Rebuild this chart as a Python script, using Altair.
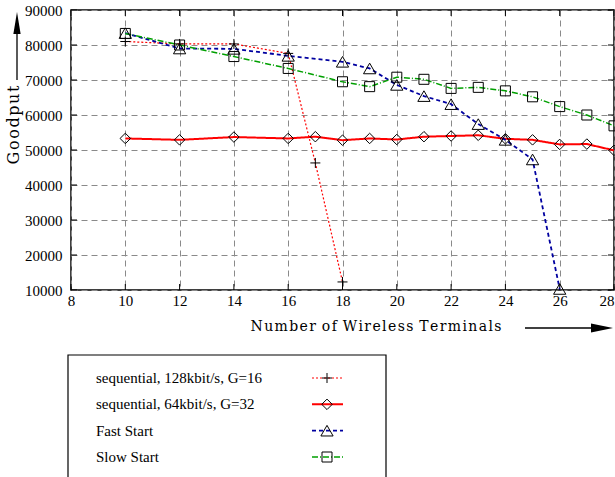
import altair as alt
import pandas as pd

# ---------------- data ----------------
series_names = [
    "sequential, 128kbit/s, G=16",
    "sequential, 64kbit/s, G=32",
    "Fast Start",
    "Slow Start",
]
x_seq128 = [10, 12, 14, 16, 17, 18]
y_seq128 = [81000, 80300, 80300, 77600, 46300, 12300]

x_seq64 = [10, 12, 14, 16, 17, 18, 19, 20, 21, 22, 23, 24, 25, 26, 27, 28]
y_seq64 = [53300, 52900, 53700, 53300, 53800, 52800, 53300, 53000, 53800,
           54000, 54200, 53200, 52900, 51600, 51700, 49900]

x_fast = [10, 12, 14, 16, 18, 19, 20, 21, 22, 23, 24, 25, 26]
y_fast = [83400, 79000, 78900, 76900, 75200, 73300, 68600, 65400, 63100,
          57400, 52900, 47300, 10300]

x_slow = [10, 12, 14, 16, 18, 19, 20, 21, 22, 23, 24, 25, 26, 27, 28]
y_slow = [83300, 80000, 76700, 73300, 69500, 68100, 70800, 70200, 67600,
          67900, 66900, 65200, 62400, 60000, 56900]

x_ticks = [8, 10, 12, 14, 16, 18, 20, 22, 24, 26, 28]
y_ticks = [10000, 20000, 30000, 40000, 50000, 60000, 70000, 80000, 90000]

x_title = "Number of Wireless Terminals"
y_title = "Goodput"

# ---------------- styles ----------------
colors = ["#ff0000", "#ff0000", "#0000a0", "#00a000"]
dashes = [[2, 2], [1, 0], [4, 3], [6, 2, 1, 2]]
widths = [1.2, 2.0, 1.8, 1.5]
plus_path = "M-1,0L1,0M0,-1L0,1"
shapes = [plus_path, "diamond", "triangle-up", "square"]
sizes = [100, 110, 150, 100]

FONT = "Liberation Serif"
TFONT = "DejaVu Serif"
W, H = 543, 280

xs_all = [x_seq128, x_seq64, x_fast, x_slow]
ys_all = [y_seq128, y_seq64, y_fast, y_slow]

x_scale = alt.Scale(domain=[8, 28], nice=False, zero=False)
y_scale = alt.Scale(domain=[10000, 90000], nice=False, zero=False)
x_axis = alt.Axis(values=x_ticks, title=None, grid=True, gridDash=[6, 4],
                  gridColor="#8a8a8a", gridWidth=1, tickSize=0, domain=False,
                  labelFont=FONT, labelFontSize=15, labelColor="black",
                  labelPadding=3, labelFlush=False, format="d",
                  labelAlign=alt.expr("datum.value >= 28 ? 'right' : 'center'"))
y_axis = alt.Axis(values=y_ticks, title=None, grid=True, gridDash=[6, 4],
                  gridColor="#8a8a8a", gridWidth=1, tickSize=0, domain=False,
                  labelFont=FONT, labelFontSize=15, labelColor="black",
                  labelPadding=9, labelFlush=False, format="d")


def X(field):
    return alt.X(field, type="quantitative", scale=x_scale, axis=x_axis)


def Y(field):
    return alt.Y(field, type="quantitative", scale=y_scale, axis=y_axis)


xt = pd.DataFrame({"t": x_ticks})
yt = pd.DataFrame({"t": y_ticks})

main_layers = [
    alt.Chart(xt).mark_rule(color="black", strokeWidth=1).encode(
        x=X("t"), y=alt.value(H), y2=alt.value(H - 6)),
    alt.Chart(xt).mark_rule(color="black", strokeWidth=1).encode(
        x=X("t"), y=alt.value(0), y2=alt.value(6)),
    alt.Chart(yt).mark_rule(color="black", strokeWidth=1).encode(
        y=Y("t"), x=alt.value(0), x2=alt.value(6)),
    alt.Chart(yt).mark_rule(color="black", strokeWidth=1).encode(
        y=Y("t"), x=alt.value(W), x2=alt.value(W - 6)),
]

point_layers = []
for name, xs, ys, c, d, w, s, sz in zip(series_names, xs_all, ys_all, colors,
                                       dashes, widths, shapes, sizes):
    df = pd.DataFrame({"x": xs, "y": ys})
    main_layers.append(
        alt.Chart(df).mark_line(color=c, strokeDash=d, strokeWidth=w, clip=True)
        .encode(x=X("x"), y=Y("y"))
    )
    point_layers.append(
        alt.Chart(df).mark_point(shape=s, size=sz, filled=False, color="black",
                                 strokeWidth=1, opacity=1)
        .encode(x=X("x"), y=Y("y"))
    )

main = alt.layer(*main_layers, *point_layers)

# ---------------- legend ----------------
leg_scale = alt.Scale(type="point", domain=series_names, range=[368, 447],
                      padding=0)
one = pd.DataFrame({"a": [0]})

legend_layers = [
    alt.Chart(one).mark_rect(fillOpacity=0, stroke="black", strokeWidth=1.2)
    .encode(x=alt.value(-3), x2=alt.value(315), y=alt.value(345),
            y2=alt.value(480))
]
for name, c, d, w, s, sz in zip(series_names, colors, dashes, widths, shapes,
                               sizes):
    ldf = pd.DataFrame({"series": [name]})
    ly = alt.Y("series:N", scale=leg_scale, axis=None)
    legend_layers.append(
        alt.Chart(ldf).mark_text(align="left", baseline="middle", font=FONT,
                                 fontSize=15, color="black")
        .encode(x=alt.value(25), y=ly, text="series:N")
    )
    legend_layers.append(
        alt.Chart(ldf).mark_rule(color=c, strokeDash=d, strokeWidth=w)
        .encode(x=alt.value(241), x2=alt.value(272), y=ly)
    )
    legend_layers.append(
        alt.Chart(ldf).mark_point(shape=s, size=sz, filled=False,
                                  color="black", strokeWidth=1, opacity=1)
        .encode(x=alt.value(256), y=ly)
    )
legend = alt.layer(*legend_layers)

# ---------------- titles & arrows ----------------
spaced_title = "\u200a".join(x_title).replace("\u200a \u200a", " \u200a")
spaced_y = "\u200a".join(y_title)
deco = alt.layer(
    alt.Chart(one).mark_text(font=TFONT, fontSize=14, color="black",
                             align="center", baseline="middle")
    .encode(x=alt.value(305), y=alt.value(317), text=alt.value(spaced_title)),
    alt.Chart(one).mark_text(font=TFONT, fontSize=16, color="black",
                             align="center", baseline="middle", angle=270)
    .encode(x=alt.value(-57), y=alt.value(115), text=alt.value(spaced_y)),
    alt.Chart(one).mark_rule(color="black", strokeWidth=1.3)
    .encode(x=alt.value(-54), y=alt.value(70), y2=alt.value(20)),
    alt.Chart(one).mark_point(shape="M0,-1L0.33,1L-0.33,1Z", size=484,
                              filled=True, color="black", opacity=1)
    .encode(x=alt.value(-54), y=alt.value(13)),
    alt.Chart(one).mark_rule(color="black", strokeWidth=1.3)
    .encode(x=alt.value(454), x2=alt.value(525), y=alt.value(318)),
    alt.Chart(one).mark_point(shape="M1,0L-1,-0.4L-1,0.4Z", size=484,
                              filled=True, color="black", opacity=1)
    .encode(x=alt.value(531), y=alt.value(318)),
)

chart = (
    alt.layer(main, legend, deco)
    .resolve_scale(y="independent")
    .properties(width=W, height=H, autosize="none",
                padding={"left": 71, "top": 10, "right": 1, "bottom": 187},
                background="white")
    .configure_view(stroke="black", strokeWidth=1.5)
)

chart.save("out.html", embed_options={"renderer": "svg", "actions": False})
